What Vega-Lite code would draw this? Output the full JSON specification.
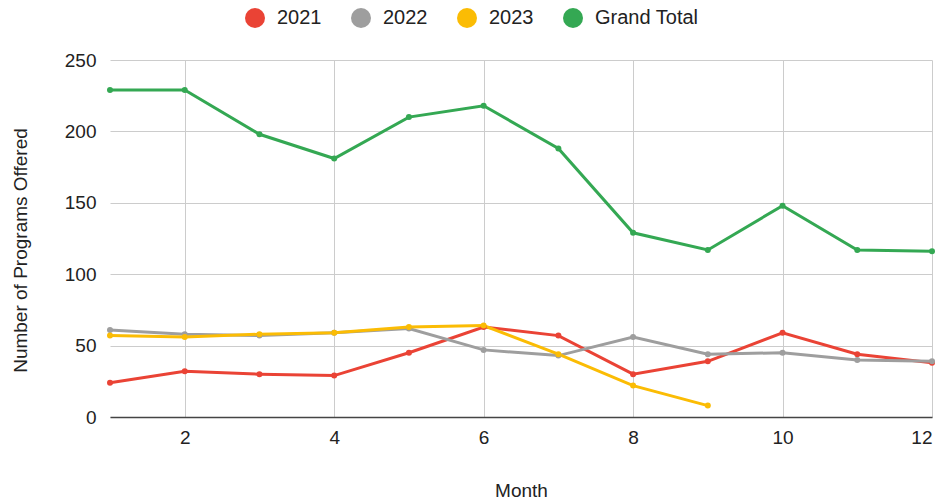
{
  "$schema": "https://vega.github.io/schema/vega-lite/v6.json",
  "width": 822,
  "height": 357,
  "autosize": {"type": "none"},
  "padding": {"left": 110, "top": 60, "right": 11, "bottom": 87},
  "background": "white",
  "config": {
    "font": "Liberation Sans",
    "view": {"stroke": null}
  },
  "data": {
    "values": [
      {"month": 1, "series": "2021", "value": 24},
      {"month": 2, "series": "2021", "value": 32},
      {"month": 3, "series": "2021", "value": 30},
      {"month": 4, "series": "2021", "value": 29},
      {"month": 5, "series": "2021", "value": 45},
      {"month": 6, "series": "2021", "value": 63},
      {"month": 7, "series": "2021", "value": 57},
      {"month": 8, "series": "2021", "value": 30},
      {"month": 9, "series": "2021", "value": 39},
      {"month": 10, "series": "2021", "value": 59},
      {"month": 11, "series": "2021", "value": 44},
      {"month": 12, "series": "2021", "value": 38},
      {"month": 1, "series": "2022", "value": 61},
      {"month": 2, "series": "2022", "value": 58},
      {"month": 3, "series": "2022", "value": 57},
      {"month": 4, "series": "2022", "value": 59},
      {"month": 5, "series": "2022", "value": 62},
      {"month": 6, "series": "2022", "value": 47},
      {"month": 7, "series": "2022", "value": 43},
      {"month": 8, "series": "2022", "value": 56},
      {"month": 9, "series": "2022", "value": 44},
      {"month": 10, "series": "2022", "value": 45},
      {"month": 11, "series": "2022", "value": 40},
      {"month": 12, "series": "2022", "value": 39},
      {"month": 1, "series": "2023", "value": 57},
      {"month": 2, "series": "2023", "value": 56},
      {"month": 3, "series": "2023", "value": 58},
      {"month": 4, "series": "2023", "value": 59},
      {"month": 5, "series": "2023", "value": 63},
      {"month": 6, "series": "2023", "value": 64},
      {"month": 7, "series": "2023", "value": 44},
      {"month": 8, "series": "2023", "value": 22},
      {"month": 9, "series": "2023", "value": 8},
      {"month": 1, "series": "Grand Total", "value": 229},
      {"month": 2, "series": "Grand Total", "value": 229},
      {"month": 3, "series": "Grand Total", "value": 198},
      {"month": 4, "series": "Grand Total", "value": 181},
      {"month": 5, "series": "Grand Total", "value": 210},
      {"month": 6, "series": "Grand Total", "value": 218},
      {"month": 7, "series": "Grand Total", "value": 188},
      {"month": 8, "series": "Grand Total", "value": 129},
      {"month": 9, "series": "Grand Total", "value": 117},
      {"month": 10, "series": "Grand Total", "value": 148},
      {"month": 11, "series": "Grand Total", "value": 117},
      {"month": 12, "series": "Grand Total", "value": 116}
    ]
  },
  "mark": {"type": "line", "strokeWidth": 3, "point": {"filled": true, "size": 36}},
  "encoding": {
    "x": {
      "field": "month",
      "type": "quantitative",
      "scale": {"domain": [1, 12], "nice": false, "zero": false},
      "axis": {
        "title": "Month",
        "values": [2, 4, 6, 8, 10, 12],
        "ticks": false,
        "labelPadding": 11,
        "labelFontSize": 19,
        "labelColor": "#222222",
        "titleFontSize": 19,
        "titleFontWeight": "normal",
        "titleColor": "#222222",
        "titleY": 73,
        "titleBaseline": "middle",
        "grid": true,
        "gridColor": "#cccccc",
        "gridWidth": 1,
        "domain": true,
        "domainColor": "#444444",
        "domainWidth": 1.5
      }
    },
    "y": {
      "field": "value",
      "type": "quantitative",
      "scale": {"domain": [0, 250], "nice": false},
      "axis": {
        "title": "Number of Programs Offered",
        "values": [0, 50, 100, 150, 200, 250],
        "ticks": false,
        "labelPadding": 14,
        "labelFontSize": 19,
        "labelColor": "#222222",
        "titleFontSize": 19,
        "titleFontWeight": "normal",
        "titleColor": "#222222",
        "titleX": -90,
        "titleY": 190,
        "titleBaseline": "middle",
        "grid": true,
        "gridColor": "#cccccc",
        "gridWidth": 1,
        "domain": false
      }
    },
    "color": {
      "field": "series",
      "type": "nominal",
      "scale": {
        "domain": ["2021", "2022", "2023", "Grand Total"],
        "range": ["#ea4335", "#9e9e9e", "#fbbc04", "#34a853"]
      },
      "legend": {
        "title": null,
        "orient": "none",
        "direction": "horizontal",
        "legendX": 135,
        "legendY": -52,
        "symbolType": "circle",
        "symbolSize": 400,
        "symbolStrokeWidth": 0,
        "labelFontSize": 20,
        "labelColor": "#222222",
        "labelOffset": 12,
        "columnPadding": 29
      }
    }
  }
}
